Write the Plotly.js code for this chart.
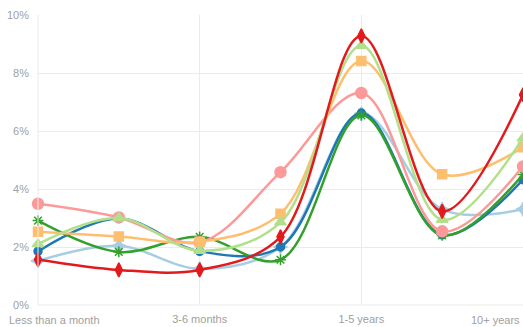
<!DOCTYPE html>
<html>
<head>
<meta charset="utf-8">
<script src="https://cdn.plot.ly/plotly-3.0.1.min.js"></script>
<style>html,body{margin:0;padding:0;background:#fff;overflow:hidden}#chart{width:523px;height:327px}</style>
</head>
<body>
<div id="chart"></div>
<script>
const categories = ["Less than a month", "1-3 months", "3-6 months", "6-12 months", "1-5 years", "5-10 years", "10+ years"];
const tickCategories = ["Less than a month", "3-6 months", "1-5 years", "10+ years"];
const yTicks = [0, 2, 4, 6, 8, 10];

const lightBlue  = [1.52, 2.04, 1.25, 2.00, 6.60, 3.30, 3.30];
const darkBlue   = [1.85, 2.98, 1.85, 2.00, 6.62, 2.42, 4.32];
const green      = [2.91, 1.83, 2.35, 1.56, 6.54, 2.40, 4.50];
const pink       = [3.49, 3.02, 2.16, 4.58, 7.31, 2.54, 4.78];
const orange     = [2.53, 2.36, 2.18, 3.15, 8.41, 4.51, 5.44];
const lightGreen = [2.10, 3.00, 1.87, 2.85, 8.94, 2.94, 5.75];
const red        = [1.57, 1.21, 1.21, 2.35, 9.28, 3.23, 7.25];

function tr(name, y, color, symbol, size) {
  return {
    type: 'scatter', mode: 'lines+markers', name: name,
    x: categories, y: y, cliponaxis: false,
    line: {color: color, width: 2.5, shape: 'spline', smoothing: 1},
    marker: {color: color, symbol: symbol, size: size, line: {color: color, width: 1.5}}
  };
}

const data = [
  tr('lightBlue', lightBlue, '#a6cee3', 'star-diamond', 10),
  tr('darkBlue', darkBlue, '#1f78b4', 'circle', 8),
  tr('green', green, '#33a02c', 'asterisk', 9),
  tr('pink', pink, '#fb9a99', 'circle', 11),
  tr('orange', orange, '#fdbf6f', 'square', 9),
  tr('lightGreen', lightGreen, '#b2df8a', 'triangle-up', 10),
  tr('red', red, '#e31a1c', 'diamond-tall', 10)
];

const font = {family: '"Liberation Sans", Arial, sans-serif', size: 11, color: '#a0a0a0'};

const layout = {
  width: 523, height: 327,
  margin: {l: 38, r: 0, t: 15, b: 22, pad: 0},
  paper_bgcolor: '#fff', plot_bgcolor: '#fff',
  showlegend: false,
  font: font,
  xaxis: {
    type: 'category', range: [0, 6],
    tickvals: tickCategories,
    ticktext: tickCategories.map((c, i) => (i === 0 || i === tickCategories.length - 1) ? '' : c),
    showgrid: true, gridcolor: '#ebebeb', gridwidth: 1,
    zeroline: false, showline: false, ticks: '', tickfont: font, fixedrange: true,
    ticklabelstandoff: 6
  },
  yaxis: {
    range: [0, 10], tickvals: yTicks, ticktext: yTicks.map(v => v + '%'),
    showgrid: true, gridcolor: '#ebebeb', gridwidth: 1,
    zeroline: false, showline: false, ticks: '', tickfont: font, fixedrange: true,
    ticklabelstandoff: 8
  },
  shapes: [
    {type: 'line', xref: 'paper', yref: 'paper', x0: 0, x1: 0, y0: 0, y1: 1, line: {color: '#ebebeb', width: 1}},
    {type: 'line', xref: 'paper', yref: 'paper', x0: 0, x1: 1, y0: 0, y1: 0, line: {color: '#ebebeb', width: 1}}
  ],
  annotations: [
    {x: tickCategories[0], xref: 'x', y: 0, yref: 'paper', yanchor: 'top', xanchor: 'left', xshift: -31, yshift: -7,
     text: tickCategories[0], showarrow: false, font: font},
    {x: tickCategories[tickCategories.length - 1], xref: 'x', y: 0, yref: 'paper', yanchor: 'top', xanchor: 'right', xshift: -1, yshift: -7,
     text: tickCategories[tickCategories.length - 1], showarrow: false, font: font}
  ]
};

Plotly.newPlot('chart', data, layout, {displayModeBar: false, staticPlot: true});
</script>
</body>
</html>
